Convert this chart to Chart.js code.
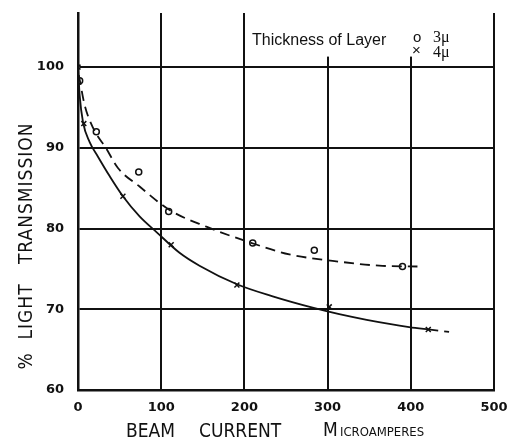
<!DOCTYPE html>
<html>
<head>
<meta charset="utf-8">
<script src="https://cdn.jsdelivr.net/npm/chart.js@4/dist/chart.umd.min.js"></script>
<style>
  html, body { margin: 0; padding: 0; background: #fff; }
  canvas { display: block; }
</style>
</head>
<body>
<canvas id="chart" width="514" height="448"></canvas>
<script>
// ── Data
const yTicks = [60, 70, 80, 90, 100];
const xTicks = [0, 100, 200, 300, 400, 500];

// measured points, 3 micron layer (circles)
const pts3x = [2, 22, 73, 109, 210, 284, 390];
const pts3y = [98.3, 92, 87, 82.1, 78.2, 77.3, 75.3];

// measured points, 4 micron layer (crosses)
const pts4x = [0, 7, 54, 112, 191, 302, 421];
const pts4y = [100, 93, 84, 78, 73, 70.3, 67.5];

// hand-drawn fitted curves
const curve3x = [1, 8, 18, 34, 48, 74, 110, 155, 206, 254, 306, 362, 408];
const curve3y = [99, 95.3, 92.5, 89.9, 87.5, 85.2, 82.3, 80.2, 78.3, 76.8, 76.0, 75.4, 75.3];
const curve4x = [0, 2, 6, 14, 24, 38, 54, 74, 95, 122, 146, 191, 234, 282, 314, 347, 398, 421, 446];
const curve4y = [100, 96.5, 93.2, 90.7, 88.9, 86.5, 84, 81.5, 79.5, 77, 75.4, 73.1, 71.6, 70.2, 69.4, 68.7, 67.8, 67.5, 67.2];

const ink = '#111';
const zip = (xs, ys) => xs.map((x, i) => ({ x, y: ys[i] }));

// ── Legend box text + axis titles
const paperPlugin = {
  id: 'paper',
  beforeDatasetsDraw(chart) {
    const { ctx, scales: { x, y } } = chart;
    // legend block sits over the top of the 300 / 400 grid lines
    ctx.save();
    ctx.fillStyle = '#fff';
    ctx.fillRect(x.getPixelForValue(200) + 6, 0, x.getPixelForValue(500) - x.getPixelForValue(200) - 14, y.getPixelForValue(101.3));
    ctx.restore();
  },
  afterDraw(chart) {
    const { ctx } = chart;
    ctx.save();
    ctx.fillStyle = ink;
    ctx.textBaseline = 'alphabetic';

    ctx.font = '16px "Liberation Sans"';
    ctx.fillText('Thickness of Layer', 252, 45);
    ctx.font = '15px "Liberation Sans"';
    ctx.fillText('o', 413, 42);
    ctx.fillText('×', 412, 55);
    ctx.font = '16px "Liberation Serif"';
    ctx.fillText('3μ', 433, 42);
    ctx.fillText('4μ', 433, 57);

    // x title
    ctx.font = '19px "DejaVu Sans Condensed"';
    ctx.fillText('BEAM', 126, 437);
    ctx.fillText('CURRENT', 199, 437);
    ctx.fillText('M', 323, 436);
    ctx.font = '13px "DejaVu Sans Condensed"';
    ctx.fillText('ICROAMPERES', 340, 436);

    // y title
    ctx.translate(32, 246);
    ctx.rotate(-Math.PI / 2);
    ctx.textAlign = 'center';
    ctx.font = '19px "DejaVu Sans Condensed"';
    ctx.letterSpacing = '1px';
    ctx.fillText('%  LIGHT   TRANSMISSION', 0, 0);
    ctx.restore();
  }
};

new Chart(document.getElementById('chart'), {
  type: 'scatter',
  data: {
    datasets: [
      {
        label: '3μ curve',
        type: 'line',
        data: zip(curve3x, curve3y),
        borderColor: ink,
        borderWidth: 1.8,
        borderDash: [10, 6],
        pointRadius: 0,
        cubicInterpolationMode: 'monotone',
        fill: false,
      },
      {
        label: '4μ curve',
        type: 'line',
        data: zip(curve4x, curve4y),
        borderColor: ink,
        borderWidth: 1.8,
        pointRadius: 0,
        cubicInterpolationMode: 'monotone',
        fill: false,
        segment: { borderDash: c => c.p0.parsed.x >= 421 ? [10, 6] : undefined },
      },
      {
        label: '3μ',
        data: zip(pts3x, pts3y),
        pointStyle: 'circle',
        pointRadius: 3,
        pointBorderWidth: 1.5,
        pointBorderColor: ink,
        pointBackgroundColor: '#fff',
      },
      {
        label: '4μ',
        data: zip(pts4x, pts4y),
        pointStyle: 'crossRot',
        pointRadius: 3.5,
        pointBorderWidth: 1.5,
        pointBorderColor: ink,
      },
    ]
  },
  options: {
    responsive: false,
    animation: false,
    layout: { autoPadding: false, padding: { top: 13, right: 20, left: 0, bottom: 0 } },
    plugins: { legend: { display: false }, tooltip: { enabled: false } },
    scales: {
      x: {
        type: 'linear',
        min: 0,
        max: 500,
        afterFit: s => { s.height = 58; s.paddingLeft = 0; s.paddingRight = 0; },
        afterBuildTicks: s => { s.ticks = xTicks.map(v => ({ value: v })); },
        grid: { color: ink, lineWidth: 2, drawTicks: false },
        border: { color: ink, width: 2.5 },
        ticks: { color: ink, padding: 10, font: { family: 'DejaVu Sans', weight: 'bold', size: 13 } },
      },
      y: {
        min: 60,
        max: 106.7,
        afterFit: s => { s.width = 78; s.paddingTop = 0; s.paddingBottom = 0; },
        afterBuildTicks: s => { s.ticks = yTicks.map(v => ({ value: v })); },
        grid: { color: ink, lineWidth: 2, drawTicks: false },
        border: { color: ink, width: 2.5 },
        ticks: { color: ink, padding: 14, font: { family: 'DejaVu Sans', weight: 'bold', size: 13 } },
      }
    }
  },
  plugins: [paperPlugin]
});
</script>
</body>
</html>
